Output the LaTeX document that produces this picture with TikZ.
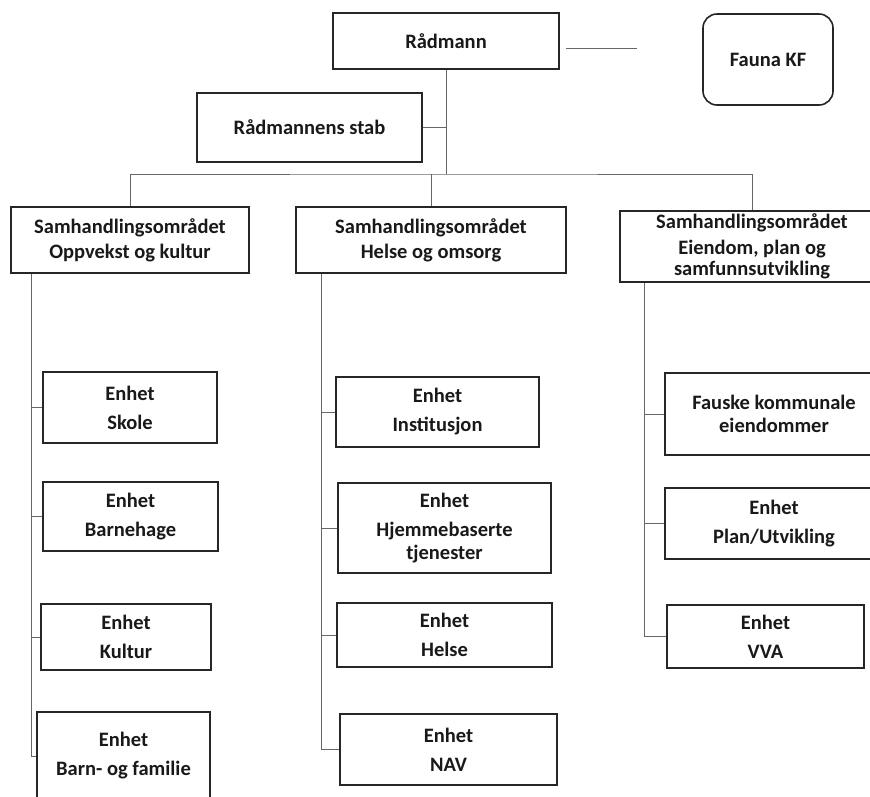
\documentclass[tikz,border=0pt]{standalone}
\usepackage{fontspec}
\setmainfont{Carlito}
\usepackage{tikz}
\tikzset{
    %Define style for boxes
    boks/.style={
           rectangle,
           draw=black!85, line width=1.6pt,
           inner sep=0pt,
           font=\fontsize{20.5}{23}\selectfont\bfseries,
           text=black!90,
           align=center},
    topboks/.style={
           boks},
    rundboks/.style={
           topboks,
           rounded corners=14pt},
    %Define box size
    sz/.style 2 args={
           minimum width=#1pt,
           minimum height=#2pt},
    % Define line style
    linje/.style={
           draw=black!60,
           line width=1pt}
}
\begin{document}
\begin{tikzpicture}[x=1pt,y=-1pt]
\path[use as bounding box, fill=white] (0,0) rectangle (870,796);
% top
\node[topboks, sz={226}{56}](radmann) at (446,41) {Rådmann};
\node[rundboks, sz={130}{91}](fauna) at (768,59.5) {Fauna KF};
\node[topboks, sz={225}{69}](stab) at (309.5,127.5) {Rådmannens stab};
% samhandlingsomraader
\node[boks, sz={238}{66}](sa) at (130,240) {Samhandlingsområdet\\[2pt]Oppvekst og kultur};
\node[boks, sz={270}{66}](sb) at (431,240) {Samhandlingsområdet\\[2pt]Helse og omsorg};
\node[boks, sz={264}{71}](sc) at (752,246.5) {Samhandlingsområdet\\[3pt]Eiendom, plan og\\[-2pt]samfunnsutvikling};
% enheter oppvekst
\node[boks, sz={174}{71}](skole) at (130,407.5) {Enhet\\[6pt]Skole};
\node[boks, sz={175}{69}](barnehage) at (130.5,516.5) {Enhet\\[6pt]Barnehage};
\node[boks, sz={170}{66}](kultur) at (126,637) {Enhet\\[6pt]Kultur};
\node[boks, sz={173}{88}](barnfam) at (123.5,756) {Enhet\\[6pt]Barn- og familie};
% enheter helse
\node[boks, sz={203}{70}](institusjon) at (437.5,412) {Enhet\\[6pt]Institusjon};
\node[boks, sz={213}{90}](hjemme) at (444.5,528) {Enhet\\[6pt]Hjemmebaserte\\tjenester};
\node[boks, sz={215}{64}](helse) at (444.5,635) {Enhet\\[6pt]Helse};
\node[boks, sz={217}{71}](nav) at (448.5,749.5) {Enhet\\[6pt]NAV};
% enheter eiendom
\node[boks, sz={218}{82}](fauske) at (774,414) {Fauske kommunale\\eiendommer};
\node[boks, sz={218}{71}](plan) at (774,523.5) {Enhet\\[6pt]Plan/Utvikling};
\node[boks, sz={197}{63}](vva) at (765.5,636.5) {Enhet\\[6pt]VVA};
% lines
\coordinate (bus) at (446,174);
\coordinate (faunastart) at (566,48);
\coordinate (faunaend) at (637,48);
\draw[linje] (faunastart) -- (faunaend);
\draw[linje] (radmann.south) -- (bus);
\draw[linje] (stab.east) -- (stab.east -| radmann.south);
\draw[linje] (sa.north) |- (bus) -| (sc.north);
\draw[linje] (sb.north) -- (sb.north |- bus);
\coordinate (spa) at ([xshift=21pt]sa.south west);
\coordinate (spb) at ([xshift=26pt]sb.south west);
\coordinate (spc) at ([xshift=25pt]sc.south west);
\foreach \n in {skole,barnehage,kultur,barnfam}
    \draw[linje] (spa) |- (\n.west);
\foreach \n in {institusjon,hjemme,helse,nav}
    \draw[linje] (spb) |- (\n.west);
\foreach \n in {fauske,plan,vva}
    \draw[linje] (spc) |- (\n.west);
\end{tikzpicture}
\end{document}
